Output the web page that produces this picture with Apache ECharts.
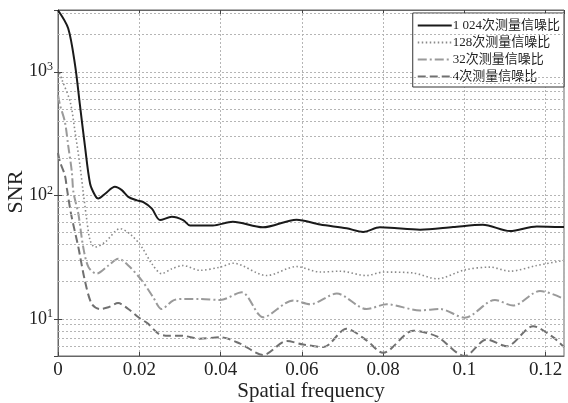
<!DOCTYPE html>
<html>
<head>
    <meta charset="utf-8"/>
    <title>SNR</title>
    <script src="https://cdn.jsdelivr.net/npm/echarts@6/dist/echarts.min.js"></script>
    <style>
        html, body { margin: 0; padding: 0; background: #fff; }
        #main { width: 568px; height: 403px; }
    </style>
</head>
<body>
<div id="main"></div>
<script type="text/javascript">
    // values
    let names = ['1 024次测量信噪比', '128次测量信噪比', '32次测量信噪比', '4次测量信噪比'];

    let f1024 = [0, 0.0025, 0.0042, 0.0054, 0.0066, 0.0079, 0.0091, 0.0099, 0.0116, 0.0140, 0.0157, 0.0173, 0.0194, 0.0210, 0.0231, 0.0251, 0.0280, 0.0308, 0.0325, 0.0381, 0.0430, 0.0504, 0.0587, 0.0645, 0.0710, 0.0751, 0.0792, 0.0817, 0.0891, 0.0972, 0.1045, 0.1112, 0.1178, 0.1245];
    let snr1024 = [3150, 2250, 1130, 537, 255, 124, 100, 94, 103, 117, 110, 97, 91, 88, 78, 63, 67, 63, 57, 57, 61, 55, 63.5, 58, 54, 50.5, 55, 54.7, 52.7, 55.3, 57.8, 51.3, 56, 55.3];

    let f128 = [0, 0.001, 0.003, 0.0042, 0.0054, 0.0062, 0.0071, 0.0079, 0.0091, 0.0116, 0.0153, 0.0181, 0.0206, 0.0231, 0.0255, 0.0280, 0.0308, 0.0349, 0.0399, 0.0431, 0.0513, 0.0587, 0.0645, 0.0694, 0.0759, 0.0800, 0.0874, 0.0932, 0.1001, 0.1063, 0.1112, 0.1178, 0.1245];
    let snr128 = [1050, 857, 571, 326, 175, 106, 62.7, 43.2, 38.1, 41.8, 53.7, 47.4, 38.1, 27.9, 23.2, 25.4, 27, 24.7, 26.2, 28.2, 22.4, 26.5, 23.9, 24.3, 22.4, 23.9, 23.5, 21.1, 24.9, 26.2, 24.3, 27, 29.7];

    let f32 = [0, 0.0005, 0.0017, 0.0025, 0.0034, 0.0038, 0.005, 0.0062, 0.0075, 0.0095, 0.0124, 0.0148, 0.0173, 0.0206, 0.0234, 0.0255, 0.0284, 0.0312, 0.0349, 0.0399, 0.0452, 0.0505, 0.0579, 0.062, 0.0686, 0.0759, 0.0809, 0.0891, 0.094, 0.1001, 0.1075, 0.112, 0.1186, 0.1245];
    let snr32 = [650, 537, 393, 254, 155, 106, 71, 38.1, 26.2, 23.2, 27, 30.7, 27, 20.5, 15, 12, 14.1, 14.5, 14.5, 14.2, 16.4, 10.3, 14.1, 13.1, 16, 12, 13.1, 11.7, 12, 10.2, 14.2, 12.8, 16.8, 14.5];

    let f4 = [0, 0.0005, 0.0017, 0.0022, 0.0032, 0.005, 0.0066, 0.0083, 0.0103, 0.0124, 0.0148, 0.0173, 0.0198, 0.0222, 0.0247, 0.0271, 0.0304, 0.0349, 0.0399, 0.0448, 0.0505, 0.0563, 0.0603, 0.0653, 0.071, 0.0759, 0.08, 0.0874, 0.0932, 0.1001, 0.1055, 0.1104, 0.1169, 0.1218, 0.1245];
    let snr4 = [220, 186, 145, 113, 71, 38.1, 20.5, 13.2, 12, 12.4, 13.4, 12, 10.3, 9.1, 7.6, 7.3, 7.3, 6.9, 7.1, 6.3, 5.1, 6.6, 6.2, 5.9, 8.3, 6.7, 5.3, 8, 7.2, 5, 6.8, 6, 8.7, 7.1, 5.9];

    // minor log grid lines (2..9 of each decade)
    let minorGrid = [6, 7, 8, 9, 20, 30, 40, 50, 60, 70, 80, 90, 200, 300, 400, 500, 600, 700, 800, 900, 2000, 3000];

    let pairs = function (xs, ys) {
        return xs.map(function (x, i) { return [x, ys[i]]; });
    };

    let serif = '"Liberation Serif", "DejaVu Serif", serif';
    let gridColor = '#b5b5b5';

    let chart = echarts.init(document.getElementById('main'));
    chart.setOption({
        animation: false,
        backgroundColor: '#fff',
        grid: {
            left: 58, top: 10, right: 4, bottom: 47,
            outerBoundsMode: 'none',
            show: true, borderColor: '#666', borderWidth: 1
        },
        legend: {
            data: names,
            orient: 'vertical',
            right: 4,
            top: 13,
            itemWidth: 34,
            itemHeight: 12,
            itemGap: 4,
            padding: [6, 4, 4, 4],
            backgroundColor: '#fff',
            borderColor: '#333',
            borderWidth: 1,
            borderRadius: 0,
            itemStyle: {color: 'transparent', borderWidth: 0, opacity: 0},
            textStyle: {
                fontFamily: '"Liberation Serif", "Noto Sans CJK SC", serif',
                fontSize: 13,
                color: '#222',
                padding: [0, 0, 0, -4]
            }
        },
        xAxis: [
            {
                type: 'value',
                min: 0,
                max: 0.1245,
                interval: 0.02,
                name: 'Spatial frequency',
                nameLocation: 'middle',
                nameGap: 25,
                nameMoveOverlap: false,
                nameTextStyle: {fontFamily: serif, fontSize: 21, color: '#222'},
                axisLine: {lineStyle: {color: '#666'}},
                axisTick: {inside: true, length: 4, lineStyle: {color: '#444'}},
                axisLabel: {
                    fontFamily: serif, fontSize: 19, color: '#222', margin: 5,
                    showMaxLabel: false
                },
                splitLine: {show: true, lineStyle: {color: gridColor, type: [2, 2]}}
            },
            {
                type: 'value',
                position: 'top',
                min: 0,
                max: 0.1245,
                interval: 0.02,
                axisLine: {lineStyle: {color: '#666'}},
                axisTick: {inside: true, length: 4, lineStyle: {color: '#444'}},
                axisLabel: {show: false},
                splitLine: {show: false}
            }
        ],
        yAxis: [
            {
                type: 'log',
                logBase: 10,
                min: 5,
                max: 3162,
                name: 'SNR',
                nameLocation: 'middle',
                nameGap: 31,
                nameMoveOverlap: false,
                nameTextStyle: {fontFamily: serif, fontSize: 22, color: '#222', padding: [0, 18, 0, 0]},
                axisLine: {lineStyle: {color: '#666'}},
                axisTick: {inside: true, length: 4, lineStyle: {color: '#444'}},
                axisLabel: {
                    margin: 5,
                    showMinLabel: false,
                    showMaxLabel: false,
                    formatter: function (v) {
                        let e = Math.round(Math.log10(v));
                        if (Math.abs(Math.log10(v) - e) > 1e-6) return '';
                        return '{b|10}{s|' + e + '}';
                    },
                    rich: {
                        b: {fontFamily: serif, fontSize: 18, color: '#222'},
                        s: {fontFamily: serif, fontSize: 12, color: '#222', padding: [0, 0, 9, 0]}
                    }
                },
                splitLine: {show: true, lineStyle: {color: gridColor, type: [2, 2]}}
            },
            {
                type: 'log',
                logBase: 10,
                min: 5,
                max: 3162,
                position: 'right',
                axisLine: {lineStyle: {color: '#666'}},
                axisTick: {inside: true, length: 4, lineStyle: {color: '#444'}},
                axisLabel: {show: false},
                splitLine: {show: false}
            }
        ],
        series: [
            {
                name: 'minor grid',
                type: 'line',
                data: [],
                silent: true,
                markLine: {
                    silent: true,
                    symbol: 'none',
                    label: {show: false},
                    lineStyle: {color: gridColor, type: [2, 2], width: 1},
                    data: minorGrid.map(function (v) { return {yAxis: v}; })
                }
            },
            {
                name: names[0],
                type: 'line',
                symbol: 'none',
                smooth: 0.3,
                z: 5,
                lineStyle: {color: '#1a1a1a', width: 2},
                itemStyle: {color: '#1a1a1a'},
                data: pairs(f1024, snr1024)
            },
            {
                name: names[1],
                type: 'line',
                symbol: 'none',
                smooth: 0.3,
                z: 4,
                lineStyle: {color: '#8a8a8a', width: 1.6, type: [1.5, 2.5]},
                itemStyle: {color: '#8a8a8a'},
                data: pairs(f128, snr128)
            },
            {
                name: names[2],
                type: 'line',
                symbol: 'none',
                smooth: 0.3,
                z: 4,
                lineStyle: {color: '#9a9a9a', width: 2, type: [9, 3, 2, 3]},
                itemStyle: {color: '#9a9a9a'},
                data: pairs(f32, snr32)
            },
            {
                name: names[3],
                type: 'line',
                symbol: 'none',
                smooth: 0.3,
                z: 4,
                lineStyle: {color: '#707070', width: 2, type: [8, 4]},
                itemStyle: {color: '#707070'},
                data: pairs(f4, snr4)
            }
        ]
    });
</script>
</body>
</html>
